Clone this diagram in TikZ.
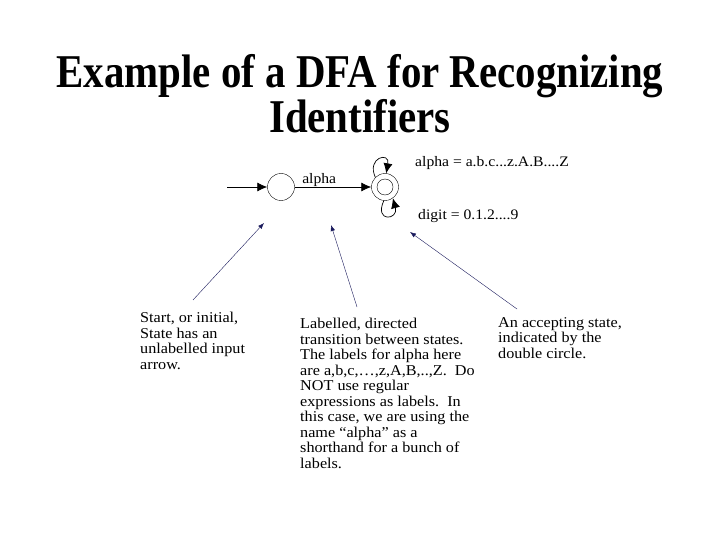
\documentclass[tikz,border=0pt]{standalone}
\usepackage{fontspec}
\setmainfont{Liberation Serif}
\newfontfamily\notefont[FakeStretch=1.08]{Liberation Serif}
\usetikzlibrary{arrows.meta,positioning,calc}
\definecolor{Ink}{HTML}{000000}
\definecolor{Navy}{HTML}{1A1A5C}
\newcommand{\headtext}[1]{\scalebox{0.87}[1]{\bfseries\fontsize{47}{45}\selectfont #1}}
\tikzset{
 state/.style={draw=Ink, circle, minimum size=27pt, inner sep=0pt},
 innerring/.style={draw=Ink, circle, minimum size=16pt, inner sep=0pt},
 headline/.style={anchor=base, inner sep=0pt},
 note/.style={anchor=north west, inner sep=0pt, align=left, font=\notefont\fontsize{15}{15.5}\selectfont},
 deflabel/.style={anchor=base west, inner sep=0pt, font=\notefont\fontsize{14.5}{15}\selectfont},
 edgelabel/.style={inner sep=0.5pt, font=\notefont\fontsize{14.5}{15}\selectfont},
 trans/.style={-{Latex[length=10pt,width=9pt]}, draw=Ink, line width=0.7pt},
 pointer/.style={-{Latex[length=6pt,width=4.5pt]}, draw=Navy, thin}
}
\begin{document}
\begin{tikzpicture}[x=1pt,y=-1pt]
\useasboundingbox (0,0) rectangle (720,540);
\node[headline] (title) at (360,88) {\headtext{Example of a DFA for Recognizing}};
\node[headline] (title2) at ($(title.base)+(0,45)$) {\headtext{Identifiers}};

\node[state] (q0) at (281,187) {};
\node[state] (q1) at (385,187) {};
\node[innerring] (q1in) at (q1) {};
\coordinate (in) at (227,187);
\draw[trans] (in) -- (q0);
\draw[trans] (q0) -- node[above, pos=0.32, edgelabel] {alpha} (q1);
\draw[trans] (q1.135) .. controls +(-9,-20) and +(4,-22) .. (q1.85);
\draw[trans] (q1.265) .. controls +(-10,22) and +(6,22) .. (q1.305);
\node[deflabel] (alphadef) at (415,167) {alpha = a.b.c...z.A.B....Z};
\node[deflabel] (digitdef) at (418,219) {digit = 0.1.2....9};

\node[note] (startnote) at (140,312) {Start, or initial,\\State has an\\unlabelled input\\arrow.};
\node[note] (transnote) at (300,318) {Labelled, directed\\transition between states.\\The labels for alpha here\\are a,b,c,…,z,A,B,..,Z.\ \ Do\\NOT use regular\\expressions as labels.\ \ In\\this case, we are using the\\name “alpha” as a\\shorthand for a bunch of\\labels.};
\node[note] (acceptnote) at (498,317) {An accepting state,\\indicated by the\\double circle.};

\coordinate (s1) at (193,300);
\coordinate (t1) at (264,223);
\coordinate (s2) at (357,307);
\coordinate (t2) at (331,225);
\coordinate (s3) at (517,309);
\coordinate (t3) at (410,232);
\draw[pointer] (s1) -- (t1);
\draw[pointer] (s2) -- (t2);
\draw[pointer] (s3) -- (t3);
\end{tikzpicture}
\end{document}
